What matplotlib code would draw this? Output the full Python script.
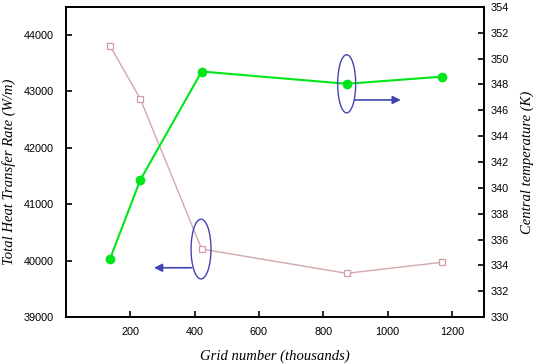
import matplotlib.pyplot as plt
from matplotlib.patches import Ellipse

grid = [137, 231, 422, 873, 1168]
heat_rate = [43810, 42870, 40206, 39775, 39970]
central_temp = [334.5, 340.6, 349.0, 348.05, 348.6]

x_ticks = [200, 400, 600, 800, 1000, 1200]
left_ticks = [39000, 40000, 41000, 42000, 43000, 44000]
right_ticks = list(range(330, 356, 2))

plt.rcParams['font.family'] = ['Liberation Sans', 'DejaVu Sans']
plt.rcParams['font.size'] = 7.8

fig = plt.figure(figsize=(5.33, 3.64), dpi=100)
ax = fig.add_axes([0.1238, 0.129, 0.7842, 0.852])
ax2 = ax.twinx()

ax.plot(grid, heat_rate, color='#d4a8a8', lw=1.0, marker='s', ms=5,
        mfc='white', mec='#d49aa4', mew=0.9)
ax2.plot(grid, central_temp, color='#00e61a', lw=1.5, marker='o', ms=6,
         mfc='#00e61a', mec='#00e61a')

ax.set_xlim(0, 1300)
ax.set_ylim(39000, 44500)
ax2.set_ylim(330, 354)
ax.set_xticks(x_ticks)
ax.set_yticks(left_ticks)
ax2.set_yticks(right_ticks)

for a in (ax, ax2):
    for s in a.spines.values():
        s.set_linewidth(1.3)
ax.tick_params(axis='x', direction='in', length=4, width=1.2, pad=7)
ax.tick_params(axis='y', direction='in', length=4, width=1.2, pad=9)
ax2.tick_params(direction='in', length=4, width=1.2, pad=5)

serif = {'family': ['Liberation Serif', 'DejaVu Serif'], 'style': 'italic', 'size': 10.5}
ax.set_xlabel('Grid number (thousands)', fontdict=serif, labelpad=9)
ax.set_ylabel('Total Heat Transfer Rate (W/m)', fontdict=serif)
ax.yaxis.set_label_coords(-0.12, 0.468)
ax2.set_ylabel('Central temperature (K)', fontdict=serif, labelpad=8)

# markers pointing each series to its axis
blue = '#4444b0'
ax2.add_patch(Ellipse((873, 348.05), 56, 4.5, fill=False, ec=blue, lw=1.0, zorder=5))
ax2.annotate('', xy=(1050, 346.8), xytext=(890, 346.8),
             arrowprops=dict(arrowstyle='-|>', color=blue, lw=1.2, mutation_scale=12))
ax.add_patch(Ellipse((420, 40206), 62, 1060, fill=False, ec=blue, lw=1.0, zorder=5))
ax.annotate('', xy=(265, 39874), xytext=(400, 39874),
            arrowprops=dict(arrowstyle='-|>', color=blue, lw=1.2, mutation_scale=12))

fig.savefig('out.png', dpi=100)
